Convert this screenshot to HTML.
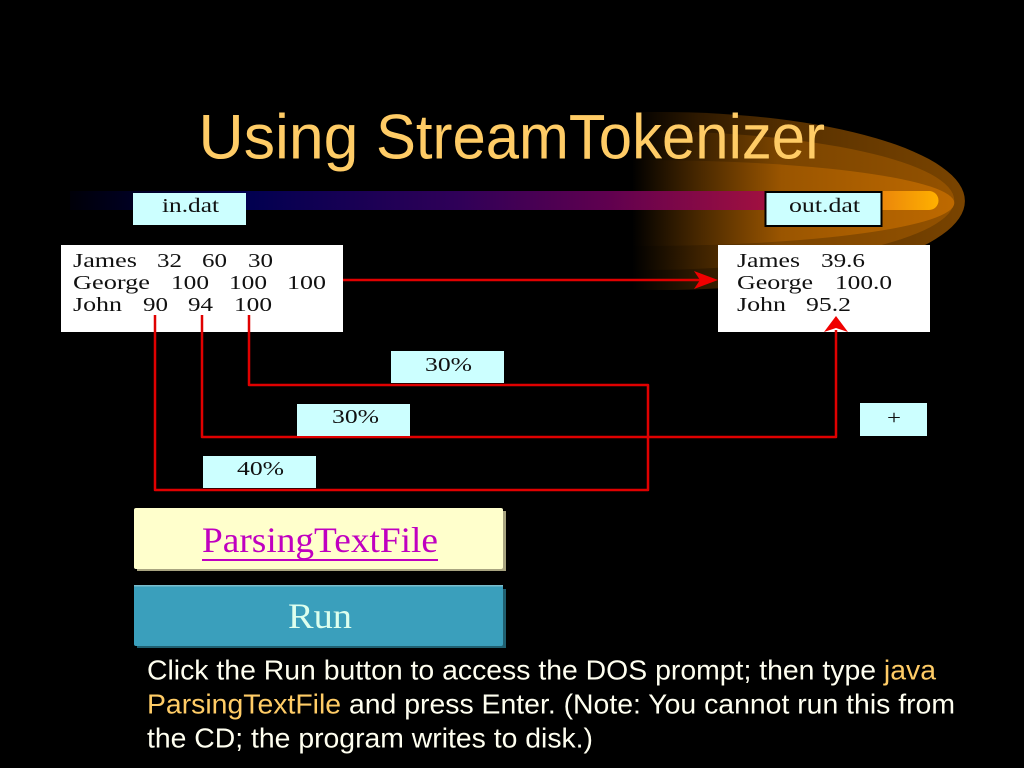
<!DOCTYPE html>
<html><head><meta charset="utf-8"><style>
html,body{margin:0;padding:0;background:#000;width:1024px;height:768px;overflow:hidden}
svg{display:block}
.s{font-family:"Liberation Serif",serif;font-size:20px;fill:#111}
.c{text-anchor:middle}
</style></head><body>
<svg width="1024" height="768" viewBox="0 0 1024 768" xmlns="http://www.w3.org/2000/svg">
<defs>
<linearGradient id="g1" gradientUnits="userSpaceOnUse" x1="632" y1="0" x2="965" y2="0">
<stop offset="0" stop-color="#000"/><stop offset=".2" stop-color="#2e1900"/><stop offset=".5" stop-color="#5a3200"/><stop offset="1" stop-color="#7a4400"/></linearGradient>
<linearGradient id="g2" gradientUnits="userSpaceOnUse" x1="632" y1="0" x2="955" y2="0">
<stop offset="0" stop-color="#000"/><stop offset=".2" stop-color="#3a2000"/><stop offset=".45" stop-color="#7a4400"/><stop offset="1" stop-color="#945200"/></linearGradient>
<linearGradient id="g3" gradientUnits="userSpaceOnUse" x1="632" y1="0" x2="950" y2="0">
<stop offset="0" stop-color="#000"/><stop offset=".22" stop-color="#4c2a00"/><stop offset=".47" stop-color="#9a5500"/><stop offset="1" stop-color="#bd6900"/></linearGradient>
<linearGradient id="bar" gradientUnits="userSpaceOnUse" x1="70" y1="0" x2="938" y2="0">
<stop offset="0" stop-color="#000008"/><stop offset=".2" stop-color="#000050"/><stop offset=".45" stop-color="#300058"/><stop offset=".62" stop-color="#60004f"/><stop offset=".8" stop-color="#a01040"/><stop offset=".9" stop-color="#e07010"/><stop offset="1" stop-color="#ffb000"/></linearGradient>
</defs>
<rect width="1024" height="768" fill="#000"/>
<path d="M632 112 H660 A305 89 0 0 1 660 290 H632 Z" fill="url(#g1)"/>
<path d="M632 131 H640 A312 69 0 0 1 640 270 H632 Z" fill="url(#g2)"/>
<path d="M632 160 H640 A307 42 0 0 1 640 246 H632 Z" fill="url(#g3)"/>
<path d="M70 191 H929 A9.500 9.500 0 0 1 929 210 H70 Z" fill="url(#bar)"/>
<g font-family="Liberation Sans, sans-serif" font-size="63" fill="#ffcc66">
<text x="198.500" y="158.500" textLength="160" lengthAdjust="spacingAndGlyphs">Using</text>
<text x="376" y="158.500" textLength="449" lengthAdjust="spacingAndGlyphs">StreamTokenizer</text>
</g>

<rect x="133" y="193" width="113" height="32" fill="#ccffff"/>
<text x="162" y="212" class="s" textLength="57" lengthAdjust="spacingAndGlyphs">in.dat</text>
<rect x="765.500" y="192" width="116" height="34" fill="#ccffff" stroke="#000" stroke-width="2"/>
<text x="789" y="212" class="s" textLength="71" lengthAdjust="spacingAndGlyphs">out.dat</text>

<rect x="61" y="245" width="282" height="87" fill="#fff"/>
<text class="s" x="73" y="267" textLength="64" lengthAdjust="spacingAndGlyphs">James</text>
<text class="s" x="157" y="267" textLength="25" lengthAdjust="spacingAndGlyphs">32</text>
<text class="s" x="202" y="267" textLength="25" lengthAdjust="spacingAndGlyphs">60</text>
<text class="s" x="248" y="267" textLength="25" lengthAdjust="spacingAndGlyphs">30</text>
<text class="s" x="73" y="289" textLength="77" lengthAdjust="spacingAndGlyphs">George</text>
<text class="s" x="171" y="289" textLength="38" lengthAdjust="spacingAndGlyphs">100</text>
<text class="s" x="229" y="289" textLength="38" lengthAdjust="spacingAndGlyphs">100</text>
<text class="s" x="287" y="289" textLength="39" lengthAdjust="spacingAndGlyphs">100</text>
<text class="s" x="73" y="311" textLength="49" lengthAdjust="spacingAndGlyphs">John</text>
<text class="s" x="143" y="311" textLength="25" lengthAdjust="spacingAndGlyphs">90</text>
<text class="s" x="188" y="311" textLength="25" lengthAdjust="spacingAndGlyphs">94</text>
<text class="s" x="234" y="311" textLength="38" lengthAdjust="spacingAndGlyphs">100</text>

<rect x="718" y="245" width="212" height="87" fill="#fff"/>
<text class="s" x="737" y="267" textLength="63" lengthAdjust="spacingAndGlyphs">James</text>
<text class="s" x="821" y="267" textLength="44" lengthAdjust="spacingAndGlyphs">39.6</text>
<text class="s" x="737" y="289" textLength="76" lengthAdjust="spacingAndGlyphs">George</text>
<text class="s" x="835" y="289" textLength="57" lengthAdjust="spacingAndGlyphs">100.0</text>
<text class="s" x="737" y="311" textLength="49" lengthAdjust="spacingAndGlyphs">John</text>
<text class="s" x="806" y="311" textLength="45" lengthAdjust="spacingAndGlyphs">95.2</text>

<g fill="none" stroke="#e00000" stroke-width="2.500">
<path d="M343 280 H700"/>
<path d="M155 315 V490 H648 V385 H249 V315" stroke-linejoin="round"/>
<path d="M202 315 V437 H836 V330" stroke-linejoin="round"/>
</g>
<path d="M718 280 L694 271 L700 280 L694 289 Z" fill="#f00000"/>
<path d="M836 316 L848 332 L836 328 L824 332 Z" fill="#f00000"/>

<rect x="391" y="351" width="113" height="32" fill="#ccffff"/>
<text x="425" y="371" class="s" textLength="47" lengthAdjust="spacingAndGlyphs">30%</text>
<rect x="297" y="404" width="113" height="32" fill="#ccffff"/>
<text x="332" y="423" class="s" textLength="47" lengthAdjust="spacingAndGlyphs">30%</text>
<rect x="203" y="456" width="113" height="32" fill="#ccffff"/>
<text x="237" y="475" class="s" textLength="47" lengthAdjust="spacingAndGlyphs">40%</text>
<rect x="860" y="403" width="67" height="33" fill="#ccffff"/>
<text x="887" y="424" class="s" textLength="14" lengthAdjust="spacingAndGlyphs">+</text>

<rect x="137" y="511" width="369" height="60" fill="#a8a480"/>
<rect x="134" y="508" width="369" height="61" rx="2" fill="#ffffcc"/>
<text x="202" y="552" font-family="Liberation Serif, serif" font-size="36" fill="#c000c0" textLength="236" lengthAdjust="spacingAndGlyphs">ParsingTextFile</text>
<rect x="202" y="559" width="236" height="2" fill="#c000c0"/>

<rect x="137" y="589" width="369" height="59" fill="#1f5f70"/>
<rect x="134" y="585" width="369" height="61" rx="2" fill="#3a9fbc"/>
<rect x="134" y="585" width="369" height="1.500" fill="#79bccd"/>
<text x="288" y="628" font-family="Liberation Serif, serif" font-size="36" fill="#ddffee" textLength="64" lengthAdjust="spacingAndGlyphs">Run</text>

<g font-family="Liberation Sans, sans-serif" font-size="28" fill="#fffff0">
<text x="147" y="679.500" textLength="789" lengthAdjust="spacingAndGlyphs">Click the Run button to access the DOS prompt; then type <tspan fill="#ffcc66">java</tspan></text>
<text x="147" y="713.500" textLength="808" lengthAdjust="spacingAndGlyphs"><tspan fill="#ffcc66">ParsingTextFile</tspan> and press Enter. (Note: You cannot run this from</text>
<text x="147" y="747.500" textLength="446" lengthAdjust="spacingAndGlyphs">the CD; the program writes to disk.)</text>
</g>
</svg>
</body></html>
